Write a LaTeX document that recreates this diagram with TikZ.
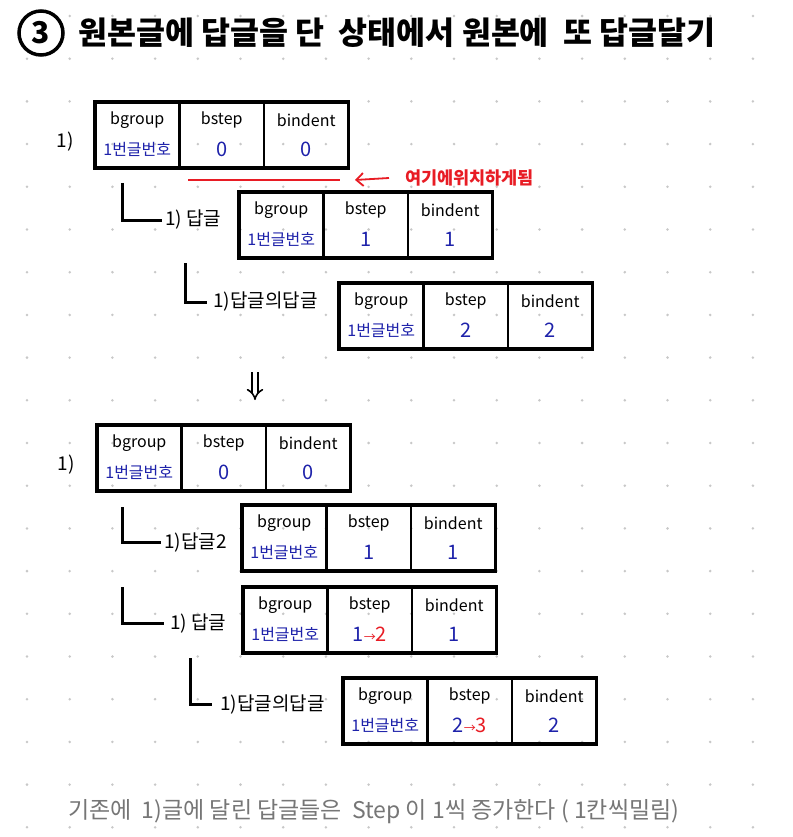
\documentclass[tikz,border=0pt]{standalone}
\usepackage{fontspec}
\setmainfont{Noto Sans CJK KR}
\usepackage{tikz}
\usetikzlibrary{positioning,arrows.meta}
\definecolor{penblue}{RGB}{30,34,170}
\definecolor{penred}{RGB}{232,28,36}
\definecolor{notegray}{RGB}{118,118,118}
\definecolor{gridgray}{RGB}{200,200,200}
\newcommand{\fsz}[1]{\fontsize{#1}{#1}\selectfont}
\newcommand{\upto}[2]{#1\textcolor{penred}{{\fsz{12}→}#2}}
\newcommand{\rec}[4]{%
  \node[cell, anchor=north west] (#1g) at (#2) {};
  \node[cell, right=0pt of #1g] (#1s) {};
  \node[cell, right=0pt of #1s] (#1i) {};
  \node[hdr] (#1gh) at ([yshift=-18pt]#1g.north) {bgroup};
  \node[hdr] (#1sh) at ([yshift=-18pt]#1s.north) {bstep};
  \node[hdr] (#1ih) at ([yshift=-18pt]#1i.north) {bindent};
  \node[num, font=\fsz{16}] (#1gv) at ([yshift=-47pt]#1g.north) {1번글번호};
  \node[num] (#1sv) at ([yshift=-47pt]#1s.north) {#3};
  \node[num] (#1iv) at ([yshift=-47pt]#1i.north) {#4};
  \draw[frame] (#1g.north west) rectangle (#1i.south east);
}

\begin{document}
\begin{tikzpicture}[
  x=1pt, y=-1pt,
  cell/.style={draw, line width=2.2pt, minimum width=84.5pt, minimum height=66pt, inner sep=0pt, outer sep=0pt},
  frame/.style={line width=3.2pt},
  hdr/.style={font=\fsz{16}, inner sep=0pt},
  num/.style={text=penblue, font=\fsz{20}, inner sep=0pt},
  lbl/.style={font=\fsz{19}, inner sep=0pt},
  elbow/.style={line width=3pt},
  slot/.style={draw=penred, line width=2pt},
  redarr/.style={draw=penred, line width=1.8pt, -{Straight Barb[length=7pt, width=13pt]}},
  rednote/.style={text=penred, font=\bfseries\fsz{17.5}, inner sep=0pt},
  turn/.style={double, double distance=4pt, line width=1.6pt, -{Implies}},
  note/.style={text=notegray, font=\fsz{23}, inner sep=0pt}
]
\fill[white] (0,0) rectangle (792,837);
\useasboundingbox (0,0) rectangle (792,837);
\foreach \i in {0,...,17}
  \foreach \j in {0,...,19}
    \fill[gridgray] (27+42.7*\i, 16+42.7*\j) circle (1.4pt);

\node[circle, draw, line width=3.5pt, minimum size=44pt, inner sep=0pt, font=\bfseries\fsz{30}] (three) at (41,33) {3};
\node[anchor=west, font=\bfseries\fsz{31.5}, inner sep=0pt] (title) at (78,33) {원본글에 답글을 단 \ 상태에서 원본에 \ 또 답글달기};

\rec{uA}{95,102}{0}{0}
\rec{uB}{239,192}{1}{1}
\rec{uC}{339,283}{2}{2}
\node[lbl] (luA) at (65,142) {1)};
\node[lbl, anchor=west] (luB) at (165,220) {1) 답글};
\node[lbl, anchor=west] (luC) at (213,302) {1)답글의답글};
\draw[elbow] ([xshift=27pt,yshift=-15pt]uAg.south west) |- ([xshift=-3pt]luB.west);
\draw[elbow] ([xshift=-54pt,yshift=-5pt]uBg.south west) |- ([xshift=-6pt]luC.west);

\coordinate (slotL) at (188,180);
\coordinate (slotR) at (340,180);
\draw[slot] (slotL) -- (slotR);
\node[rednote, anchor=west] (here) at (405,178) {여기에위치하게됨};
\draw[redarr] ([xshift=-16pt]here.west) -- ([xshift=15pt]slotR);

\coordinate (downA) at (255,372);
\coordinate (downB) at (255,400);
\draw[turn] (downA) -- (downB);

\rec{lA}{97,425}{0}{0}
\rec{lB}{242,505}{1}{1}
\rec{lC}{243,587}{\upto{1}{2}}{1}
\rec{lD}{343,678}{\upto{2}{3}}{2}
\node[lbl] (llA) at (66,465) {1)};
\node[lbl, anchor=west] (llB) at (164,542) {1)답글2};
\node[lbl, anchor=west] (llC) at (170,623) {1) 답글};
\node[lbl, anchor=west] (llD) at (220,704) {1)답글의답글};
\draw[elbow] ([xshift=25pt,yshift=-16pt]lAg.south west) |- ([xshift=-3pt]llB.west);
\draw[elbow] ([xshift=-120pt,yshift=-16pt]lBg.south west) |- ([xshift=-6pt]llC.west);
\draw[elbow] ([xshift=-53pt,yshift=-5pt]lCg.south west) |- ([xshift=-8pt]llD.west);

\node[note, anchor=west] (summary) at (68,812) {기존에 \ 1)글에 달린 답글들은 \ Step 이 1씩 증가한다 ( 1칸씩밀림)};
\end{tikzpicture}
\end{document}
